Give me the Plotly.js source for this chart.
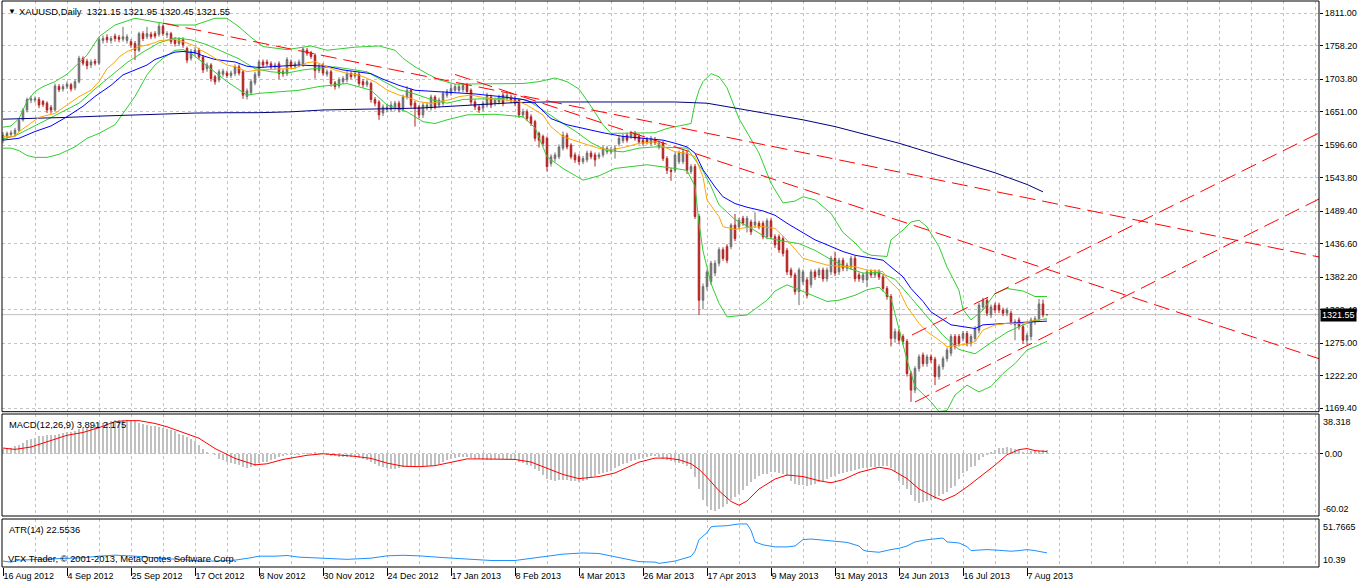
<!DOCTYPE html>
<html><head><meta charset="utf-8">
<script src="https://cdn.plot.ly/plotly-3.0.1.min.js"></script>
<style>html,body{margin:0;padding:0;background:#fff;overflow:hidden}#chart{width:1362px;height:586px}</style>
</head><body><div id="chart"></div>
<script>
// ---------------- DATA ----------------
const symbolTitle = 'XAUUSD,Daily';
const lastBar = [1321.15, 1321.95, 1320.45, 1321.55];
const lastPrice = 1321.55;
const macdTitle = 'MACD(12,26,9) 3.891 2.175';
const atrTitle = 'ATR(14) 22.5536';
const copyrightText = 'VFX Trader, © 2001-2013, MetaQuotes Software Corp.';

const dateTickBars = [0,16,32,48,64,80,96,112,128,144,160,176,192,208,224,240,256];
const dateLabels = ['16 Aug 2012','4 Sep 2012','25 Sep 2012','17 Oct 2012','8 Nov 2012','30 Nov 2012','24 Dec 2012','17 Jan 2013','8 Feb 2013','4 Mar 2013','26 Mar 2013','17 Apr 2013','9 May 2013','31 May 2013','24 Jun 2013','16 Jul 2013','7 Aug 2013'];
const priceTicks = [1811.00,1758.20,1703.80,1651.00,1596.60,1543.80,1489.40,1436.60,1382.20,1329.40,1275.00,1222.20,1169.40];
const macdRange = [-60.02, 38.318];
const atrRange = [10.39, 51.7665];

const open = [1605,1611,1614,1615,1621,1638,1654,1670,1670,1671,
1668,1665,1658,1654,1692,1688,1692,1695,1690,1700,
1738,1733,1727,1733,1730,1767,1772,1767,1774,1772,
1769,1767,1765,1762,1751,1778,1773,1777,1778,1777,
1790,1776,1778,1768,1762,1768,1754,1738,1746,1751,
1740,1721,1727,1708,1703,1712,1714,1710,1713,1724,
1716,1676,1682,1698,1710,1732,1732,1729,1724,1729,
1716,1713,1732,1725,1728,1727,1751,1747,1743,1718,
1727,1712,1716,1698,1693,1700,1703,1713,1709,1712,
1700,1695,1697,1671,1667,1649,1655,1655,1657,1665,
1655,1675,1686,1665,1659,1646,1657,1657,1675,1662,
1665,1678,1681,1686,1686,1687,1694,1686,1667,1659,
1657,1662,1675,1665,1667,1678,1673,1675,1673,1670,
1646,1651,1643,1635,1616,1611,1608,1567,1575,1578,
1592,1613,1597,1581,1578,1570,1573,1584,1581,1578,
1581,1586,1586,1588,1599,1604,1613,1611,1616,1611,
1605,1606,1600,1606,1594,1600,1575,1556,1556,1570,
1570,1584,1554,1562,1481,1345,1367,1375,1389,1405,
1427,1432,1432,1467,1464,1478,1464,1472,1467,1470,
1470,1448,1474,1448,1448,1445,1426,1394,1386,1359,
1375,1378,1370,1391,1386,1394,1380,1391,1413,1391,
1410,1397,1399,1413,1386,1378,1378,1391,1386,1391,
1383,1364,1351,1283,1294,1286,1278,1226,1199,1234,
1256,1242,1253,1249,1221,1237,1250,1259,1286,1286,
1283,1291,1275,1283,1296,1334,1345,1321,1337,1337,
1329,1324,1324,1305,1313,1302,1280,1286,1310,1315,
1339,1321.15];
const high = [1618,1619,1621,1625,1641,1657,1674,1677,1676,1675,
1670,1668,1662,1697,1696,1696,1700,1698,1704,1742,
1741,1737,1736,1737,1772,1775,1777,1774,1778,1776,
1789,1777,1769,1766,1781,1782,1789,1781,1782,1796,
1793,1782,1781,1772,1772,1772,1757,1753,1756,1755,
1743,1731,1730,1711,1720,1721,1718,1718,1728,1728,
1719,1689,1704,1716,1736,1736,1736,1733,1731,1733,
1720,1740,1736,1733,1736,1756,1755,1750,1746,1729,
1730,1720,1719,1701,1707,1709,1717,1717,1717,1716,
1704,1704,1700,1675,1670,1663,1664,1668,1669,1669,
1679,1693,1689,1669,1662,1666,1667,1679,1678,1674,
1685,1688,1697,1696,1696,1698,1698,1689,1671,1663,
1669,1682,1679,1674,1679,1682,1682,1679,1677,1673,
1656,1655,1647,1638,1619,1614,1611,1582,1585,1598,
1619,1617,1600,1585,1582,1579,1588,1588,1585,1585,
1596,1596,1594,1596,1612,1615,1617,1620,1620,1615,
1609,1610,1612,1610,1604,1604,1579,1560,1585,1588,
1590,1588,1566,1566,1485,1372,1395,1409,1410,1431,
1431,1436,1470,1485,1479,1482,1482,1476,1488,1474,
1474,1478,1478,1452,1452,1449,1430,1398,1390,1398,
1395,1382,1395,1395,1398,1398,1398,1417,1424,1414,
1414,1406,1417,1417,1390,1390,1395,1395,1395,1395,
1387,1368,1355,1299,1298,1290,1282,1230,1238,1257,
1260,1257,1257,1253,1241,1254,1268,1290,1290,1290,
1295,1295,1290,1303,1341,1349,1349,1338,1341,1341,
1333,1333,1328,1314,1317,1306,1292,1317,1319,1347,
1346,1321.95];
const low = [1600,1607,1610,1611,1618,1635,1650,1665,1666,1657,
1659,1649,1648,1651,1683,1684,1688,1684,1686,1697,
1726,1720,1722,1726,1727,1762,1763,1762,1765,1764,
1765,1762,1755,1735,1748,1766,1769,1769,1770,1773,
1774,1771,1761,1757,1758,1755,1730,1734,1742,1736,
1714,1716,1700,1695,1699,1708,1706,1706,1709,1710,
1672,1671,1678,1694,1706,1723,1725,1720,1720,1704,
1708,1709,1721,1721,1724,1724,1742,1737,1705,1714,
1710,1708,1692,1687,1689,1696,1699,1704,1705,1693,
1690,1691,1666,1660,1638,1644,1650,1651,1653,1650,
1651,1671,1658,1627,1640,1641,1653,1653,1655,1658,
1661,1674,1677,1682,1682,1683,1680,1662,1654,1649,
1652,1658,1657,1660,1663,1660,1668,1665,1660,1641,
1641,1636,1628,1603,1593,1595,1554,1562,1570,1574,
1588,1590,1574,1568,1565,1566,1569,1574,1562,1574,
1577,1582,1582,1575,1595,1600,1601,1607,1604,1598,
1596,1598,1596,1597,1590,1571,1550,1539,1552,1566,
1566,1550,1550,1477,1321,1330,1361,1370,1384,1400,
1409,1405,1428,1441,1460,1466,1455,1451,1462,1460,
1444,1444,1444,1430,1422,1416,1386,1381,1354,1337,
1370,1348,1365,1378,1381,1375,1375,1386,1384,1386,
1392,1392,1394,1375,1375,1373,1366,1381,1381,1378,
1359,1346,1270,1276,1274,1273,1221,1180,1194,1229,
1237,1237,1243,1207,1216,1232,1245,1254,1265,1270,
1278,1270,1270,1278,1291,1329,1319,1316,1324,1324,
1319,1319,1305,1280,1297,1274,1272,1280,1305,1310,
1317,1320.45];
const close = [1613,1616,1617,1621,1637,1654,1671,1672,1672,1662,
1663,1654,1654,1693,1687,1692,1696,1688,1700,1738,
1730,1726,1732,1730,1768,1770,1768,1770,1770,1769,
1773,1773,1760,1751,1778,1770,1778,1773,1774,1790,
1778,1778,1765,1762,1768,1760,1735,1749,1751,1740,
1719,1727,1705,1700,1716,1717,1710,1714,1724,1714,
1678,1685,1700,1712,1732,1727,1729,1724,1727,1713,
1713,1736,1725,1729,1732,1753,1746,1741,1718,1725,
1714,1716,1697,1692,1703,1705,1713,1708,1713,1697,
1695,1700,1671,1665,1646,1659,1659,1662,1665,1654,
1675,1686,1662,1657,1646,1662,1662,1675,1659,1670,
1681,1684,1689,1692,1692,1694,1684,1667,1659,1654,
1665,1678,1662,1670,1675,1665,1678,1670,1665,1646,
1651,1640,1632,1608,1605,1600,1562,1578,1581,1594,
1613,1594,1578,1573,1570,1575,1584,1578,1573,1581,
1592,1592,1590,1592,1608,1611,1605,1616,1608,1602,
1600,1602,1608,1601,1600,1575,1556,1554,1581,1584,
1586,1556,1562,1481,1345,1367,1391,1405,1405,1427,
1413,1410,1467,1445,1475,1470,1478,1456,1472,1464,
1448,1474,1448,1435,1427,1421,1391,1386,1359,1394,
1391,1353,1391,1383,1394,1380,1394,1413,1389,1410,
1397,1402,1413,1380,1380,1386,1391,1386,1391,1383,
1364,1351,1283,1294,1280,1278,1226,1199,1234,1253,
1242,1253,1248,1221,1237,1250,1264,1286,1270,1275,
1291,1275,1286,1299,1337,1345,1324,1334,1329,1329,
1324,1329,1310,1310,1302,1280,1288,1313,1315,1339,
1321,1321.55];

// Moving averages / Bollinger bands, read at the listed bar numbers
const orangeBar = [0,3,4,7,9,13,16,19,22,24,26,28,29,31,33,34,36,38,39,41,43,45,48,49,51,53,54,56,58,59,61,64,73,76,78,81,83,86,89,93,96,99,102,104,107,109,112,114,117,119,123,126,129,131,135,137,140,145,149,152,156,159,163,165,168,171,173,175,176,179,180,183,186,190,193,196,200,203,206,210,213,216,220,221,224,226,229,231,234,236,239,241,243,245,248,251,255,258,261];
const orangeVal = [1610.6,1610.6,1618.7,1632.3,1642,1648.5,1662,1675.6,1686,1700,1721,1732,1740,1748.7,1754,1756.8,1759.5,1763.3,1766.5,1767.6,1768.7,1765,1758,1752.5,1746,1738,1734,1727,1724.3,1721.6,1716.2,1719,1721.6,1730.8,1732.4,1724.3,1718.9,1713.5,1710.8,1699.9,1686.4,1678.3,1672.9,1667.4,1664.7,1667.4,1671.2,1675.6,1678.3,1675.6,1671.2,1670.2,1667.4,1662,1645.8,1626.8,1610.6,1599.8,1591.7,1589,1594.4,1599.8,1602.5,1594.4,1586.2,1583.5,1578.1,1545.6,1507.7,1480.7,1464.4,1460.1,1463.3,1464.4,1461.7,1442.7,1413,1407.5,1402.1,1399.4,1399.4,1394,1391.3,1380.5,1361.5,1334.5,1307.4,1293.8,1280.3,1269.5,1272.2,1273.8,1277.6,1296.6,1304.7,1307.4,1307.4,1312.8,1314];
const blueBar = [0,4,8,12,16,20,23,27,30,33,36,38,41,43,45,48,50,53,58,61,64,74,81,85,92,95,99,103,108,113,118,124,128,130,133,137,141,145,150,155,160,165,168,171,173,175,178,180,183,186,190,193,196,200,203,206,210,213,216,220,222,225,227,230,232,235,237,240,243,245,249,251,255,258,261];
const blueVal = [1605,1608,1619,1628,1643,1660,1676,1694,1711,1719,1727,1736,1743,1748,1749,1747,1742,1736,1732,1725,1723,1727,1725,1719,1713,1704,1694,1686,1684,1682,1680,1676,1673,1671,1665,1640,1630,1624,1617,1611,1608,1605,1600,1594,1584,1557,1529,1513,1502,1496,1490,1483,1470,1454,1443,1435,1424,1418,1415,1410,1399,1383,1364,1343,1326,1313,1305,1302,1299,1305,1307,1308,1309,1310,1311];
const navyBar = [0,8,16,24,32,40,48,56,64,72,80,88,96,104,112,120,128,136,144,152,160,168,176,184,192,200,208,216,224,232,240,248,256,260];
const navyVal = [1639,1640,1642,1644,1646,1648,1649,1649.5,1649.6,1651,1654,1655,1656,1657,1660,1663,1666,1667,1667,1667,1667,1667,1665,1656,1648,1638,1627,1614,1600,1584,1568,1552,1533,1521];
const bbMidBar = [0,3,7,11,15,19,23,27,31,35,39,43,47,51,55,59,63,67,71,75,79,83,87,91,95,99,103,107,111,115,119,123,127,131,135,139,143,147,151,155,159,163,167,171,175,177,179,183,187,191,195,199,203,207,211,215,219,223,227,231,235,239,243,247,251,255,259,261];
const bbMidVal = [1607,1612,1625,1638,1652,1665,1688,1710,1731,1748,1763,1771,1768,1760,1749,1737,1721,1716,1714,1719,1722,1724,1720,1716,1701,1687,1680,1671,1665,1671,1672,1672,1674,1670,1654,1636,1620,1601,1588,1586,1592,1594,1593,1592,1555,1530,1500,1476,1462,1446,1441,1437,1426,1411,1398,1389,1390,1379,1349,1318,1288,1265,1258,1276,1293,1305,1313,1315];
const bbUpBar = [0,2,4,6,8,10,13,16,21,24,28,33,38,43,48,53,56,59,62,65,71,77,81,88,94,98,100,103,106,109,113,121,130,134,138,141,144,147,150,152,157,163,166,170,172,173,174,175,177,179,181,184,187,189,192,195,198,200,203,207,210,213,215,217,221,222,225,227,229,231,234,236,239,240,242,245,248,251,255,258,261];
const bbUpVal = [1626,1628,1640,1668,1684,1692,1700,1712,1743,1773,1792,1803,1797,1792,1792,1803,1803,1789,1772,1757,1752,1758,1751,1756,1758,1751,1738,1724,1713,1703,1696,1696,1697,1700,1706,1700,1688,1660,1630,1616,1617,1617,1624,1630,1632,1665,1686,1700,1713,1708,1690,1640,1605,1584,1535,1503,1506,1513,1508,1486,1455,1438,1424,1418,1416,1443,1459,1472,1475,1464,1432,1399,1361,1330,1313,1329,1356,1364,1360,1351,1351];
const bbLoBar = [0,2,4,6,8,11,14,18,21,24,28,30,33,36,38,40,43,45,47,49,53,56,59,61,64,74,79,86,92,96,101,105,108,111,116,123,130,133,136,140,145,149,153,161,168,171,173,174,175,177,179,181,186,191,193,196,199,203,206,209,213,216,219,222,224,226,228,232,234,236,238,241,244,247,250,253,256,259,261];
const bbLoVal = [1592,1592,1588,1580,1577,1577,1582,1594,1608,1616,1630,1648,1676,1711,1727,1738,1751,1752,1746,1736,1716,1700,1687,1678,1681,1686,1692,1697,1686,1662,1651,1635,1632,1638,1646,1647,1643,1625,1578,1559,1540,1547,1559,1565,1559,1556,1530,1470,1425,1372,1340,1318,1321,1345,1360,1370,1362,1351,1343,1345,1353,1362,1366,1348,1297,1248,1205,1180,1164,1166,1191,1207,1196,1205,1226,1242,1264,1272,1278];

// Hand-drawn red trend lines: [startBar, startPrice, endBar, endPrice]
const trendLines = [
  [40, 1795, 329, 1415.2],
  [113, 1711.6, 329, 1250],
  [227.25, 1288.5, 329, 1616.6],
  [228, 1179.6, 329, 1509.4]
];

// MACD histogram (one value per bar) and signal line
const macdHist = [4.9,5.5,6,7,8.1,10.5,13,14.2,15.3,17.2,
17.5,17.9,18.2,18.5,19.5,20,20.5,21.2,21.8,23.7,
24.8,26,26.8,27.6,29.2,30,30.8,31.5,32.1,32.5,
32.6,32.5,32,31.5,29.2,28.4,27.6,27.2,26.9,26,
25.1,24.3,23,21.8,19.5,17.8,16.2,14.5,12,8.5,
5,2,0,-1.6,-4.9,-6.5,-8.1,-9,-9.7,-10.7,
-12.5,-13.9,-12.5,-11.4,-8.8,-8.1,-7.5,-6.2,-4.9,-3.2,
-2.4,-1.6,-1.2,-1,-1,0,1,1.2,1.5,0.8,
0,-1,-2,-2.5,-3,-3,-3,-3,-3,-4,
-5,-6.5,-8,-10,-12,-13,-14,-14.5,-15,-14,
-13,-12.5,-12,-12.5,-13,-12.5,-12,-11.5,-11,-9.5,
-8,-6.5,-5,-4,-3,-3,-3,-4,-5,-5.5,
-6,-6,-6,-5.5,-5,-5,-5,-5.5,-6,-7.5,
-9,-10.5,-12,-14.5,-17,-20.5,-24,-25,-26,-25.5,
-25,-25.5,-26,-26.5,-27,-26,-25,-23,-21,-19.5,
-18.5,-17.5,-16.2,-14,-12,-10,-8.5,-7,-6,-4.9,
-4,-3,-2.3,-2.5,-3.5,-4.9,-6,-7,-8.1,-8.5,
-10,-12,-14.6,-22,-34,-45,-50.3,-54,-55.2,-53.6,
-51,-48.7,-45,-42,-39,-35,-31,-27.5,-24,-21.1,
-20,-19.5,-18,-17.2,-18.5,-20,-21.8,-26,-29.2,-30,
-30.5,-30.8,-30,-29,-27.6,-26,-24.5,-22.7,-21,-19.5,
-18.5,-17.8,-16.5,-15.5,-14.6,-14,-13.5,-13,-12.5,-12,
-11.4,-12,-14,-18,-26,-30,-34,-40,-45.5,-47.1,
-46.5,-45.5,-44.5,-43.8,-40.6,-39,-37.3,-33,-30.8,-24.4,
-19,-16.2,-13,-11.4,-6.5,-3,-1.6,1.5,3.2,5.5,
6,6.5,5.5,4.9,3.2,2,1,2.3,2.3,2.3,
3.2,3.891];
const signalBar = [0,3,7,12,16,20,24,28,31,34,38,41,46,49,53,58,63,66,70,73,76,80,84,88,92,96,100,104,108,112,116,120,124,128,132,136,140,144,149,153,156,159,163,166,169,172,174,176,179,182,184,186,189,193,196,200,204,207,210,214,219,222,226,229,233,235,238,241,244,248,251,254,256,258,261];
const signalVal = [5.5,4.2,6.5,13,17.8,20.5,25.2,31,31.9,31.9,29.2,26,19.5,15,5,-4.5,-10.7,-9.7,-5.5,-3.2,-1.5,0,-1,-2.5,-4.5,-9,-12,-12.5,-11.5,-8,-5,-5,-5.5,-5.5,-8,-14,-20,-24,-22,-18.5,-13.6,-8.1,-4.2,-4.2,-5.8,-9.7,-15,-22.7,-35.7,-46,-49.7,-45.5,-34,-24.4,-20.5,-22,-26,-28,-25,-18,-13,-15,-24,-34,-42,-45,-40,-32,-23,-11,-1,4,5,3,2.175];

// ATR(14)
const atrBar = [0,2,4,8,12,16,20,24,28,33,37,41,45,49,53,58,61,64,68,71,74,80,86,92,96,100,104,110,116,122,128,134,140,145,149,153,156,159,163,164,168,171,172,173,174,175,176,177,178,181,184,186,187,188,190,193,196,198,200,202,204,208,211,214,215,216,219,222,224,226,228,231,235,236,239,241,242,244,246,249,252,254,256,258,260,261];
const atrVal = [15.5,14.6,16.3,16.9,17.8,17.8,18.4,19.7,20.6,19.7,18.4,17.5,16.9,15.5,15.5,16.3,17.8,19.7,19.7,20.3,18.9,18,17,18,20,20.5,20,18.5,17,16,16,18.5,21.5,22.5,22,19.2,16.9,15,14.6,13.5,15.5,18.4,19.5,24,34,37,40,45,45.5,46,47.5,47.5,42,32,29.5,27.7,27.7,28.5,34,34.5,34,32.5,31.6,28.5,25,24,23.1,25.4,26.5,28.5,32,33.9,35.4,32,31.1,28,24.5,25,25.4,24.8,24,24.5,25.4,24.5,23.5,22.5536];

// ---------------- LAYOUT GEOMETRY (pixels) ----------------
const PX = {left: 2, right: 1319, top: 1, bottom: 567,
  mainBottom: 411.7, macdTop: 414, macdBottom: 516, atrTop: 519};
const fy = px => (PX.bottom - px) / (PX.bottom - PX.top);
const mainDom = [fy(PX.mainBottom), 1];
const macdDom = [fy(PX.macdBottom), fy(PX.macdTop)];
const atrDom = [0, fy(PX.atrTop)];
const mainRange = [1163.9, 1831.0];
const xRange = [-0.25, 329];

const FONT = 'Liberation Sans, Arial, sans-serif';
const GRID = '#c3c3c3';
const GDASH = '3px,3px';
const bars = close.map((_, i) => i);

const traces = [];
traces.push({type: 'candlestick', x: bars, open: open, high: high, low: low, close: close,
  xaxis: 'x', yaxis: 'y', whiskerwidth: 0, hoverinfo: 'skip', showlegend: false,
  increasing: {line: {color: '#6e6e6e', width: 1}, fillcolor: '#6e6e6e'},
  decreasing: {line: {color: '#b22222', width: 1}, fillcolor: '#b22222'}});

function line(xs, ys, color, axis, extra) {
  return Object.assign({type: 'scatter', mode: 'lines', x: xs, y: ys, yaxis: axis,
    line: {color: color, width: 1}, hoverinfo: 'skip', showlegend: false}, extra || {});
}
traces.push(line(bbUpBar, bbUpVal, '#32cd32', 'y'));
traces.push(line(bbLoBar, bbLoVal, '#32cd32', 'y'));
traces.push(line(bbMidBar, bbMidVal, '#32cd32', 'y'));
traces.push(line(navyBar, navyVal, '#000080', 'y'));
traces.push(line(blueBar, blueVal, '#0000ff', 'y'));
traces.push(line(orangeBar, orangeVal, '#ffa500', 'y'));
trendLines.forEach(t => {
  traces.push(line([t[0], t[2]], [t[1], t[3]], '#ff0000', 'y', {line: {color: '#ff0000', width: 1, dash: '16px,7px'}}));
});
traces.push({type: 'bar', x: bars, y: macdHist, yaxis: 'y2', width: 0.7,
  marker: {color: '#c0c0c0', line: {width: 0}}, hoverinfo: 'skip', showlegend: false});
traces.push(line(signalBar, signalVal, '#ff0000', 'y2'));
traces.push(line(atrBar, atrVal, '#1e90ff', 'y3'));

const tickFont = {family: FONT, size: 9, color: '#000'};
const labelFont = {family: FONT, size: 9.4, color: '#000'};
const txt = (text, extra) => Object.assign({text: text, showarrow: false, font: labelFont,
  xref: 'paper', x: 0, xanchor: 'left', borderpad: 0}, extra);

const frame = (d) => ({type: 'rect', xref: 'paper', yref: 'paper', x0: 0, x1: 1, y0: d[0], y1: d[1],
  line: {color: '#000', width: 1}, fillcolor: 'rgba(0,0,0,0)', layer: 'above'});

const layout = {
  width: 1362, height: 586,
  margin: {l: PX.left, r: 1362 - PX.right, t: PX.top, b: 586 - PX.bottom, pad: 0},
  paper_bgcolor: '#fff', plot_bgcolor: '#fff',
  showlegend: false, hovermode: false, boxgap: 0.45, bargap: 0,
  font: tickFont,
  xaxis: {range: xRange, anchor: 'y3', rangeslider: {visible: false}, fixedrange: true,
    tickmode: 'array', tickvals: dateTickBars, ticktext: dateLabels,
    ticks: 'outside', ticklen: 8, tickcolor: '#000', tickwidth: 1,
    ticklabelposition: 'outside right', tickfont: tickFont,
    showgrid: true, gridcolor: GRID, griddash: GDASH, gridwidth: 1,
    minor: {tickmode: 'linear', tick0: 0, dtick: 8, showgrid: true, gridcolor: GRID, griddash: GDASH, ticks: ''},
    zeroline: false, showline: false},
  yaxis: {domain: mainDom, range: mainRange, side: 'right', anchor: 'x', fixedrange: true,
    tickmode: 'array', tickvals: priceTicks, ticktext: priceTicks.map(v => v.toFixed(2)),
    ticks: 'outside', ticklen: 3, tickcolor: '#000', tickfont: tickFont,
    showgrid: true, gridcolor: GRID, griddash: GDASH, zeroline: false, showline: false},
  yaxis2: {domain: macdDom, range: macdRange, side: 'right', anchor: 'x', fixedrange: true,
    tickmode: 'array', tickvals: [0], ticktext: ['0.00'],
    ticks: 'outside', ticklen: 3, tickcolor: '#000', tickfont: tickFont,
    showgrid: true, gridcolor: GRID, griddash: GDASH, zeroline: false, showline: false},
  yaxis3: {domain: atrDom, range: atrRange, side: 'right', anchor: 'x', fixedrange: true,
    showticklabels: false, ticks: '', showgrid: false, zeroline: false, showline: false},
  shapes: [
    {type: 'line', xref: 'paper', x0: 0, x1: 1, yref: 'y', y0: lastPrice, y1: lastPrice,
      line: {color: '#c0c0c0', width: 1}, layer: 'between'},
    frame(mainDom), frame(macdDom), frame(atrDom)
  ],
  annotations: [
    txt('▼', {x: 0, xshift: 5, yref: 'paper', y: 1, yanchor: 'top', yshift: -5, font: {family: FONT, size: 8, color: '#000'}}),
    txt(symbolTitle + '  ' + lastBar.map(v => v.toFixed(2)).join(' '), {x: 0, xshift: 16, yref: 'paper', y: 1, yanchor: 'top', yshift: -4}),
    txt(macdTitle, {x: 0, xshift: 6, yref: 'y2 domain', y: 1, yanchor: 'top', yshift: -4}),
    txt(atrTitle, {x: 0, xshift: 6, yref: 'y3 domain', y: 1, yanchor: 'top', yshift: -4}),
    txt(copyrightText, {x: 0, xshift: 5, yref: 'y3 domain', y: 0, yanchor: 'bottom', yshift: 2}),
    txt(macdRange[1].toFixed(3), {x: 1, xshift: 3, yref: 'y2 domain', y: 1, yanchor: 'top', yshift: -2, font: tickFont}),
    txt(macdRange[0].toFixed(2), {x: 1, xshift: 3, yref: 'y2 domain', y: 0, yanchor: 'bottom', yshift: 1, font: tickFont}),
    txt(atrRange[1].toFixed(4), {x: 1, xshift: 3, yref: 'y3 domain', y: 1, yanchor: 'top', yshift: -2, font: tickFont}),
    txt(atrRange[0].toFixed(2), {x: 1, xshift: 3, yref: 'y3 domain', y: 0, yanchor: 'bottom', yshift: 1, font: tickFont}),
    txt(lastPrice.toFixed(2), {x: 1, xshift: 1, yref: 'y', y: lastPrice, yanchor: 'middle',
      bgcolor: '#000', borderpad: 1, font: {family: FONT, size: 9, color: '#fff'}})
  ]
};

Plotly.newPlot('chart', traces, layout, {staticPlot: true, displayModeBar: false});
</script>
</body></html>
